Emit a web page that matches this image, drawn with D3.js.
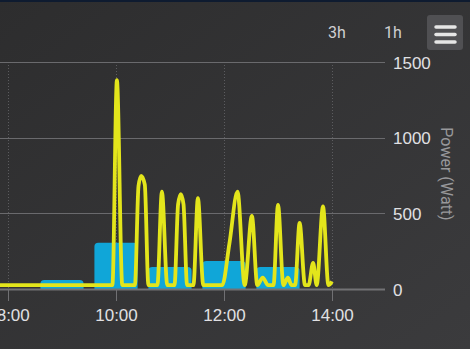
<!DOCTYPE html>
<html>
<head>
<meta charset="utf-8">
<script src="https://cdn.jsdelivr.net/npm/d3@7"></script>
<style>
  html, body { margin: 0; padding: 0; background: #333; }
  svg { display: block; font-family: Roboto, "Open Sans", sans-serif; }
</style>
</head>
<body>
<div id="chart"></div>
<script>
// hourly energy bars
const barHours = ["09:00", "10:00", "11:00", "12:00", "13:00"];
const barWatts = [60, 305, 146, 185, 146];

// power readings (spline)
const lineTimes = [
  "07:45", "09:50", "09:56", "10:01", "10:07", "10:21", "10:25", "10:28", "10:32", "10:36",
  "10:46", "10:51", "10:57", "11:05", "11:09", "11:12", "11:15", "11:19", "11:26", "11:31",
  "11:37", "11:58", "12:06", "12:15", "12:23", "12:31", "12:37", "12:43", "12:49", "12:55",
  "13:00", "13:06", "13:11", "13:15", "13:19", "13:24", "13:30", "13:34", "13:39", "13:43",
  "13:50", "13:56", "14:00"
];
const lineWatts = [
  25, 25, 25, 1380, 25, 25, 680, 748, 690, 25,
  25, 644, 25, 25, 560, 627, 560, 25, 25, 600,
  25, 25, 300, 644, 25, 483, 25, 75, 25, 25,
  556, 25, 75, 25, 25, 437, 25, 25, 172, 25,
  545, 25, 50
];

const yTicks = [0, 500, 1000, 1500];
const xTickLabels = ["08:00", "10:00", "12:00", "14:00"];

const W = 470, H = 349;
const parse = d3.timeParse("%H:%M");
const fmt = d3.timeFormat("%H:%M");

const svg = d3.select("#chart").append("svg")
  .attr("width", W).attr("height", H);

// background, like the dark theme gradient
const defs = svg.append("defs");
const grad = defs.append("linearGradient").attr("id", "bg")
  .attr("x1", 0).attr("y1", 0).attr("x2", 1).attr("y2", 1);
grad.append("stop").attr("offset", "0%").attr("stop-color", "#2d2d2e");
grad.append("stop").attr("offset", "100%").attr("stop-color", "#3b3b3d");
svg.append("rect").attr("width", W).attr("height", H).attr("fill", "url(#bg)");
svg.append("rect").attr("width", W).attr("height", 2).attr("fill", "#0e1b30");

const x = d3.scaleTime()
  .domain([parse("10:00"), parse("14:00")])
  .range([116, 332]);
const y = d3.scaleLinear()
  .domain([0, 1500])
  .range([289, 62]);

const plotRight = 385;

// vertical dotted grid
svg.append("g").selectAll("line")
  .data(xTickLabels.map(parse))
  .join("line")
  .attr("x1", d => x(d) + 0.5).attr("x2", d => x(d) + 0.5)
  .attr("y1", y(1500)).attr("y2", y(0))
  .attr("stroke", "#5c5c5f").attr("stroke-dasharray", "1,2");

// horizontal grid
svg.append("g").selectAll("line")
  .data(yTicks.filter(d => d > 0))
  .join("line")
  .attr("x1", 0).attr("x2", plotRight)
  .attr("y1", d => Math.round(y(d)) + 0.5).attr("y2", d => Math.round(y(d)) + 0.5)
  .attr("stroke", "#6a6a6d").attr("stroke-width", 1);

// right y axis labels
const yAxis = d3.axisRight(y).tickValues(yTicks).tickFormat(d3.format("d"))
  .tickSize(0).tickPadding(0);
const gy = svg.append("g").attr("transform", `translate(393,0)`).call(yAxis);
gy.select(".domain").remove();
gy.selectAll("text")
  .attr("fill", "#e0e0e3").attr("font-size", 17).attr("dy", "0.36em");

svg.append("text")
  .attr("transform", "translate(441,174) rotate(90)")
  .attr("text-anchor", "middle")
  .attr("fill", "#98989b").attr("font-size", 16)
  .text("Power (Watt)");

// bars
const halfBar = 24 * 60 * 1000;
svg.append("g").selectAll("path")
  .data(barHours.map((h, i) => ({ t: parse(h), v: barWatts[i] })))
  .join("path")
  .attr("d", d => {
    const x0 = x(new Date(+d.t - halfBar)), x1 = x(new Date(+d.t + halfBar));
    const top = y(d.v), bot = y(0), r = 4;
    return `M${x0},${bot}V${top + r}Q${x0},${top} ${x0 + r},${top}H${x1 - r}Q${x1},${top} ${x1},${top + r}V${bot}Z`;
  })
  .attr("fill", "#10a6d8");

// x axis
const xAxis = d3.axisBottom(x)
  .tickValues(xTickLabels.map(parse))
  .tickFormat(fmt)
  .tickSize(12).tickPadding(8);
const gx = svg.append("g").attr("transform", `translate(0,${y(0)})`).call(xAxis);
gx.select(".domain").remove();
gx.selectAll(".tick line").attr("stroke", "#707073");
gx.selectAll("text").attr("fill", "#e0e0e3").attr("font-size", 17);
svg.append("line")
  .attr("x1", 0).attr("x2", plotRight)
  .attr("y1", y(0) + 0.5).attr("y2", y(0) + 0.5)
  .attr("stroke", "#727275").attr("stroke-width", 2);

// power line
const line = d3.line()
  .x((d, i) => x(parse(lineTimes[i])))
  .y(d => y(d))
  .curve(d3.curveMonotoneX);
svg.append("path")
  .datum(lineWatts)
  .attr("d", line)
  .attr("fill", "none")
  .attr("stroke", "#e3e51b")
  .attr("stroke-width", 3.8)
  .attr("stroke-linejoin", "round");

// range buttons + menu
svg.append("text").attr("x", 337).attr("y", 38).attr("text-anchor", "middle")
  .attr("fill", "#cfcfd2").attr("font-size", 16).text("3h");
svg.append("text").attr("x", 393).attr("y", 38).attr("text-anchor", "middle")
  .attr("fill", "#cfcfd2").attr("font-size", 16).text("1h");
svg.append("rect").attr("x", 427).attr("y", 15).attr("width", 36).attr("height", 35)
  .attr("rx", 3).attr("fill", "#505053");
svg.append("g").selectAll("line")
  .data([27, 34.5, 42])
  .join("line")
  .attr("x1", 436).attr("x2", 455)
  .attr("y1", d => d).attr("y2", d => d)
  .attr("stroke", "#e6e6e6").attr("stroke-width", 3.5).attr("stroke-linecap", "round");
</script>
</body>
</html>
